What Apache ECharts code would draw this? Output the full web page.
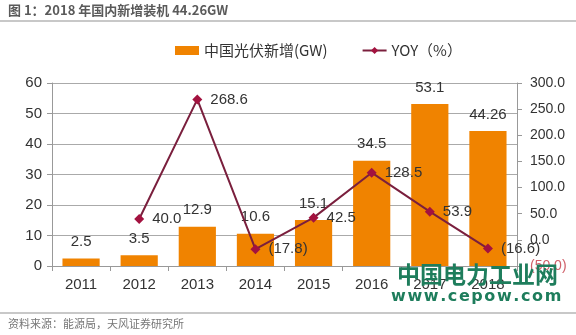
<!DOCTYPE html>
<html>
<head>
<meta charset="utf-8">
<script src="https://cdn.jsdelivr.net/npm/echarts@6/dist/echarts.min.js"></script>
<style>
  html, body { margin: 0; padding: 0; background: #fff; }
  #chart { width: 576px; height: 335px; }
</style>
</head>
<body>
<div id="chart"></div>
<script>
// Annual new PV installations in China (GW) and year-over-year growth (%)
const years = ['2011', '2012', '2013', '2014', '2015', '2016', '2017', '2018'];
const newInstalled = [2.5, 3.5, 12.9, 10.6, 15.1, 34.5, 53.1, 44.26];
const yoyGrowth = [null, 40.0, 268.6, -17.8, 42.5, 128.5, 53.9, -16.6];
const barLabels = ['2.5', '3.5', '12.9', '10.6', '15.1', '34.5', '53.1', '44.26'];

const FONT = '"Liberation Sans", Arial, sans-serif';
const CJK = '"Noto Sans CJK SC", "Liberation Sans", sans-serif';

function paren(v) {
  return v < 0 ? '(' + Math.abs(v).toFixed(1) + ')' : v.toFixed(1);
}

const chart = echarts.init(document.getElementById('chart'), null, { renderer: 'canvas' });

chart.setOption({
  animation: false,
  backgroundColor: '#ffffff',
  grid: { left: 52, right: 59, top: 83, bottom: 69 },
  legend: {
    left: 170,
    top: 38,
    itemGap: 34,
    itemWidth: 24,
    itemHeight: 9,
    textStyle: { fontFamily: CJK, fontSize: 15, color: '#333' },
    data: [
      { name: '中国光伏新增(GW)', icon: 'rect' },
      { name: 'YOY（%）' }
    ]
  },
  xAxis: {
    type: 'category',
    data: years,
    axisLine: { lineStyle: { color: '#999', width: 1 } },
    axisTick: { show: true, length: 5, lineStyle: { color: '#999' } },
    axisLabel: { color: '#333', fontSize: 15, fontFamily: FONT, margin: 11 }
  },
  yAxis: [
    {
      type: 'value',
      min: 0, max: 60, interval: 10,
      axisLine: { show: true, lineStyle: { color: '#999' } },
      axisTick: { show: true, length: 5, lineStyle: { color: '#999' } },
      splitLine: { lineStyle: { color: '#aaa', width: 1 } },
      axisLabel: { color: '#333', fontSize: 15, fontFamily: FONT, margin: 10 }
    },
    {
      type: 'value',
      min: -50, max: 300, interval: 50,
      axisLine: { show: true, lineStyle: { color: '#999' } },
      axisTick: { show: true, length: 5, lineStyle: { color: '#999' } },
      splitLine: { show: false },
      axisLabel: {
        fontSize: 14, fontFamily: FONT, margin: 13,
        formatter: function (v) {
          return v < 0 ? '{neg|' + paren(v) + '}' : '{pos|' + paren(v) + '}';
        },
        rich: {
          pos: { color: '#333', fontSize: 14, fontFamily: FONT },
          neg: { color: '#d0606a', fontSize: 14, fontFamily: FONT }
        }
      }
    }
  ],
  series: [
    {
      name: '中国光伏新增(GW)',
      type: 'bar',
      yAxisIndex: 0,
      data: newInstalled,
      barCategoryGap: '36%',
      itemStyle: { color: '#f08300' },
      label: {
        show: true,
        position: 'top',
        distance: 9,
        color: '#333',
        fontSize: 15,
        fontFamily: FONT,
        formatter: function (p) { return barLabels[p.dataIndex]; }
      },
      z: 2
    },
    {
      name: 'YOY（%）',
      type: 'line',
      yAxisIndex: 1,
      data: yoyGrowth,
      symbol: 'diamond',
      symbolSize: 10,
      lineStyle: { color: '#7a1f3d', width: 2 },
      itemStyle: { color: '#a3123f' },
      label: {
        show: true,
        position: 'right',
        distance: 8,
        color: '#333',
        fontSize: 15,
        fontFamily: FONT,
        formatter: function (p) { return paren(p.value); }
      },
      z: 3
    }
  ],
  graphic: [
    {
      type: 'text', left: 8, top: 4,
      style: {
        text: '图 1：2018 年国内新增装机 44.26GW',
        fill: '#5a5a5a',
        font: 'bold 13px ' + CJK
      }
    },
    {
      type: 'rect', shape: { x: 0, y: 20, width: 576, height: 2 },
      style: { fill: '#c8c8c8' }
    },
    {
      type: 'rect', shape: { x: 0, y: 312, width: 576, height: 2 },
      style: { fill: '#c8c8c8' }
    },
    {
      type: 'text', left: 8, top: 318,
      style: {
        text: '资料来源：能源局，天风证券研究所',
        fill: '#777',
        font: '11px ' + CJK
      }
    },
    {
      type: 'text', left: 397, top: 263, z: 10,
      style: {
        text: '中国电力工业网',
        fill: '#1e7d5c',
        font: 'bold 23px ' + CJK
      }
    },
    {
      type: 'text', left: 391, top: 289, z: 10,
      style: {
        text: 'w\u200Aw\u200Aw\u200A.\u200Ac\u200Ae\u200Ap\u200Ao\u200Aw\u200A.\u200Ac\u200Ao\u200Am',
        fill: '#1e7d5c',
        font: 'bold 16px "DejaVu Sans", sans-serif'
      }
    }
  ]
});
</script>
</body>
</html>
